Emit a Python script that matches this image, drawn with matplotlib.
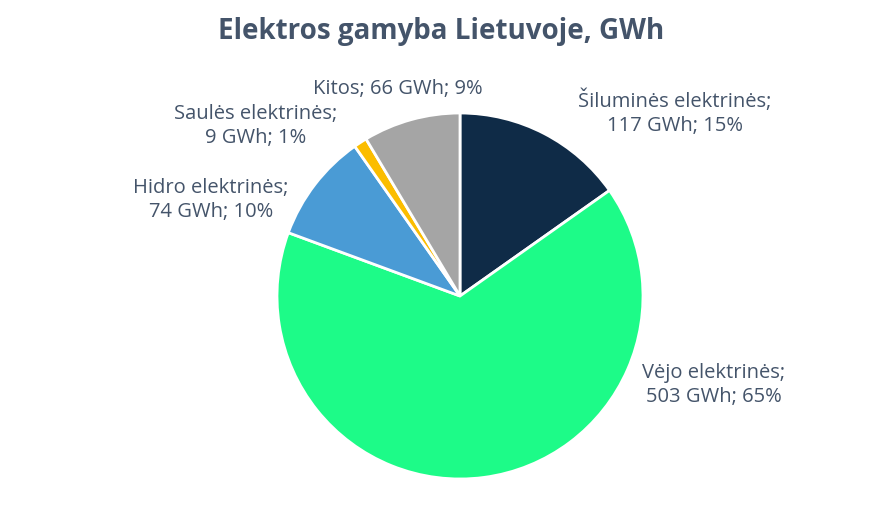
import matplotlib.pyplot as plt

# duomenys
categories = ['Šiluminės elektrinės', 'Vėjo elektrinės', 'Hidro elektrinės',
              'Saulės elektrinės', 'Kitos']
values = [117, 503, 74, 9, 66]
colors = ['#0f2b47', '#1dfb88', '#4a9bd5', '#fbbd00', '#a5a5a5']

# label layout (pixels in the 882x532 image, centre of text block)
label_px = [(675, 113), (714, 385), (211, 200), (256, 126), (398, 89)]
two_lines = [True, True, True, True, False]

plt.rcParams['font.family'] = ['Open Sans', 'DejaVu Sans']
text_color = '#44546a'

W, H = 882, 532
cx, cy, r = 460, 296, 183

fig = plt.figure(figsize=(W / 100, H / 100), dpi=100)
ax = fig.add_axes([0, 0, 1, 1])
ax.axis('off')

ax.pie(values, colors=colors, startangle=90, counterclock=False, radius=1,
       wedgeprops=dict(edgecolor='white', linewidth=2))
ax.set_xlim(-cx / r, (W - cx) / r)
ax.set_ylim(-(H - cy) / r, cy / r)
ax.set_aspect('auto')

total = sum(values)
for name, v, (px, py), tl in zip(categories, values, label_px, two_lines):
    pct = round(v / total * 100)
    sep = '\n' if tl else ' '
    txt = f'{name};{sep}{v} GWh; {pct}%'
    ax.text((px - cx) / r, (cy - py) / r, txt, ha='center', va='center',
            fontsize=14.5, color=text_color, linespacing=1.3)

fig.text(0.5, 1 - 32 / H, 'Elektros gamyba Lietuvoje, GWh', ha='center',
         va='center', fontsize=20, fontweight='bold', color=text_color)

fig.savefig('out.png', dpi=100)
